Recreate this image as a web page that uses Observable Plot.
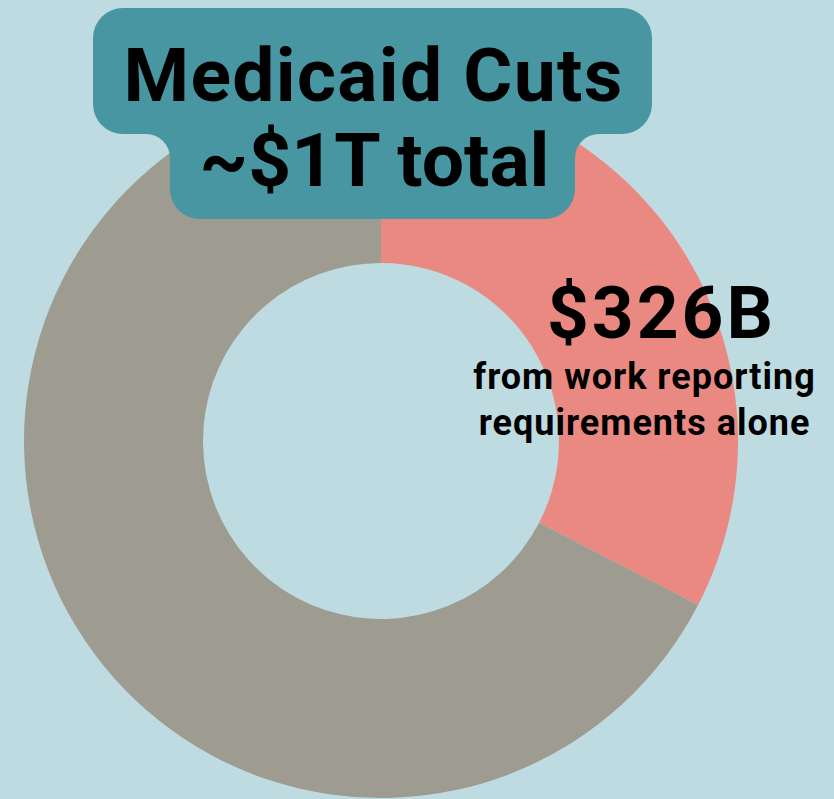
<!DOCTYPE html>
<html>
<head>
<meta charset="utf-8">
<script src="https://cdn.jsdelivr.net/npm/d3@7"></script>
<script src="https://cdn.jsdelivr.net/npm/@observablehq/plot@0.6"></script>
<style>
  html, body { margin: 0; padding: 0; background: #bddbe1; overflow: hidden; }
  #chart svg { display: block; }
</style>
</head>
<body>
<div id="chart"></div>
<script>
// ---- data ----
const categories = ["Work reporting requirements", "Other Medicaid cuts"];
const values = [326, 674]; // $B, of ~$1T total
const sliceColors = ["#ea8982", "#9e9c91"];
const titleLines = ["Medicaid Cuts", "~$1T total"];
const calloutValue = "$326B";
const calloutLines = ["from work reporting", "requirements alone"];

const W = 834, H = 799;
const data = categories.map((c, i) => ({category: c, value: values[i], color: sliceColors[i]}));

// donut geometry (layout)
const cx = 381, cy = 441, outerR = 357, innerR = 178;

function donut(index, scales, vals, dims) {
  const g = d3.create("svg:g");
  const pie = d3.pie().sort(null).value(d => d.value).startAngle(0).endAngle(2 * Math.PI);
  const arc = d3.arc().innerRadius(innerR).outerRadius(outerR);
  g.attr("transform", `translate(${scales.x(cx)},${scales.y(cy)})`);
  g.selectAll("path").data(pie(data)).join("path")
    .attr("d", arc)
    .attr("fill", d => d.data.color);
  return g.node();
}

function titleBox(index, scales) {
  const x0 = scales.x(93), x1 = scales.x(652), y0 = scales.y(8), y1 = scales.y(134);
  const x2 = scales.x(170), x3 = scales.x(575), y2 = scales.y(219);
  const r = 30, rf = 24;
  const d = `M${x0 + r},${y0} H${x1 - r} A${r},${r} 0 0 1 ${x1},${y0 + r} V${y1 - r} A${r},${r} 0 0 1 ${x1 - r},${y1}
    H${x3 + rf} A${rf},${rf} 0 0 0 ${x3},${y1 + rf} V${y2 - r} A${r},${r} 0 0 1 ${x3 - r},${y2}
    H${x2 + r} A${r},${r} 0 0 1 ${x2},${y2 - r} V${y1 + rf} A${rf},${rf} 0 0 0 ${x2 - rf},${y1}
    H${x0 + r} A${r},${r} 0 0 1 ${x0},${y1 - r} V${y0 + r} A${r},${r} 0 0 1 ${x0 + r},${y0} Z`;
  const p = d3.create("svg:path").attr("d", d).attr("fill", "#4896a2");
  return p.node();
}

const font = "Roboto, 'Open Sans', sans-serif";

const plot = Plot.plot({
  width: W,
  height: H,
  margin: 0,
  style: {background: "#bddbe1", fontFamily: font},
  x: {type: "linear", domain: [0, W], range: [0, W], axis: null},
  y: {type: "linear", domain: [0, H], range: [0, H], axis: null},
  marks: [
    donut,
    titleBox,
    Plot.text([titleLines[0]], {x: 373, y: 100, text: d => d, textAnchor: "middle", lineAnchor: "bottom",
      fontSize: 75, fontWeight: 700, fill: "#000"}),
    Plot.text([titleLines[1]], {x: 374, y: 185, text: d => d, textAnchor: "middle", lineAnchor: "bottom",
      fontSize: 75, fontWeight: 700, fill: "#000"}),
    Plot.text([calloutValue], {x: 661, y: 337, text: d => d, textAnchor: "middle", lineAnchor: "bottom",
      fontSize: 73, fontWeight: 700, fill: "#000"}),
    Plot.text(calloutLines, {x: 644, y: (d, i) => 388 + i * 46, text: d => d, textAnchor: "middle", lineAnchor: "bottom",
      fontSize: 36, fontWeight: 700, fill: "#000"})
  ]
});
// letter spacing per text mark (title line 1, title line 2, value, callout lines)
const spacing = [1.3, 0, 3, 1];
d3.select(plot).selectAll("g[aria-label='text']").each(function(_, i) {
  d3.select(this).style("letter-spacing", spacing[i] + "px");
});
document.getElementById("chart").appendChild(plot);
</script>
</body>
</html>
